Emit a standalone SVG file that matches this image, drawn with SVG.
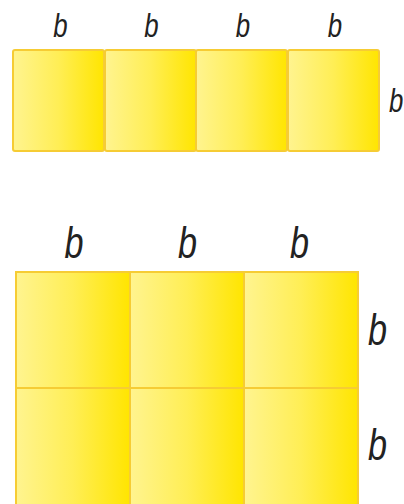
<svg xmlns="http://www.w3.org/2000/svg" width="404" height="504" viewBox="0 0 404 504">
<defs>
<linearGradient id="g" x1="0" y1="0" x2="1" y2="0">
<stop offset="0" stop-color="#FFF490"/>
<stop offset="0.5" stop-color="#FFEE55"/>
<stop offset="1" stop-color="#FFE500"/>
</linearGradient>
</defs>
<style>
.sq{fill:url(#g);stroke:#F6CC34;stroke-width:2}
.lb{font-family:"Liberation Sans",Arial,sans-serif;font-style:italic;fill:#222}
.s{font-size:34px}
.l{font-size:45px}
</style>
<rect width="404" height="504" fill="#fff"/>
<g id="row1">
<g id="sq1"><rect class="sq" x="13" y="50" width="91" height="101" rx="2"/></g>
<g id="sq2"><rect class="sq" x="105" y="50" width="91" height="101" rx="2"/></g>
<g id="sq3"><rect class="sq" x="196" y="50" width="91" height="101" rx="2"/></g>
<g id="sq4"><rect class="sq" x="288" y="50" width="91" height="101" rx="2"/></g>
</g>
<g id="labels1">
<text class="lb s" transform="translate(60.5 37) scale(0.76 1)" text-anchor="middle">b</text>
<text class="lb s" transform="translate(151.5 37) scale(0.76 1)" text-anchor="middle">b</text>
<text class="lb s" transform="translate(243 37) scale(0.76 1)" text-anchor="middle">b</text>
<text class="lb s" transform="translate(335 37) scale(0.76 1)" text-anchor="middle">b</text>
<text class="lb s" transform="translate(389 112) scale(0.76 1)">b</text>
</g>
<g id="grid2">
<g id="c11"><rect class="sq" x="16" y="272" width="114" height="116"/></g>
<g id="c12"><rect class="sq" x="130" y="272" width="114" height="116"/></g>
<g id="c13"><rect class="sq" x="244" y="272" width="114" height="116"/></g>
<g id="c21"><rect class="sq" x="16" y="388" width="114" height="118"/></g>
<g id="c22"><rect class="sq" x="130" y="388" width="114" height="118"/></g>
<g id="c23"><rect class="sq" x="244" y="388" width="114" height="118"/></g>
</g>
<g id="labels2">
<text class="lb l" transform="translate(74 258) scale(0.76 1)" text-anchor="middle">b</text>
<text class="lb l" transform="translate(187.5 258) scale(0.76 1)" text-anchor="middle">b</text>
<text class="lb l" transform="translate(299.5 258) scale(0.76 1)" text-anchor="middle">b</text>
<text class="lb l" transform="translate(368 345) scale(0.76 1)">b</text>
<text class="lb l" transform="translate(368 460) scale(0.76 1)">b</text>
</g>
</svg>
